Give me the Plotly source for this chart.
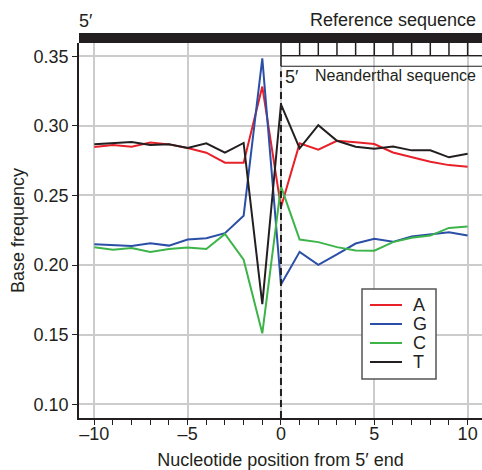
import plotly.graph_objects as go

positions = list(range(-10, 11))
freq_A = [0.2848, 0.2862, 0.2850, 0.2881, 0.2867, 0.2841, 0.2807, 0.2735, 0.2735, 0.3282,
          0.2416, 0.2874, 0.2829, 0.2893, 0.2883, 0.2869, 0.2809, 0.2773, 0.2742, 0.2718, 0.2706]
freq_G = [0.2150, 0.2143, 0.2138, 0.2157, 0.2140, 0.2184, 0.2193, 0.2229, 0.2355, 0.3485,
          0.1860, 0.2095, 0.2002, 0.2077, 0.2155, 0.2189, 0.2167, 0.2205, 0.2219, 0.2236, 0.2212]
freq_C = [0.2128, 0.2111, 0.2123, 0.2095, 0.2116, 0.2126, 0.2116, 0.2224, 0.2039, 0.1510,
          0.2565, 0.2184, 0.2165, 0.2129, 0.2105, 0.2103, 0.2165, 0.2196, 0.2212, 0.2267, 0.2277]
freq_T = [0.2868, 0.2875, 0.2884, 0.2862, 0.2868, 0.2841, 0.2875, 0.2807, 0.2877, 0.1720,
          0.3155, 0.2838, 0.3005, 0.2893, 0.2850, 0.2836, 0.2852, 0.2824, 0.2824, 0.2774, 0.2800]

series_names = ["A", "G", "C", "T"]
series_colors = ["#e8202a", "#2b4fa6", "#3cb44a", "#231f20"]

x_tickvals = [-10, -5, 0, 5, 10]
x_ticktext = ["\u201310", "\u20135", "0", "5", "10"]
y_tickvals = [0.10, 0.15, 0.20, 0.25, 0.30, 0.35]
y_ticktext = ["0.10", "0.15", "0.20", "0.25", "0.30", "0.35"]
neander_ticks = list(range(0, 11))

FONT = "Liberation Sans, Arial, sans-serif"
INK = "#231f20"

XR = [-10.82, 10.77]
YR = [0.0902, 0.3595]
NEANDER_TOP = 0.3505
NEANDER_BOT = 0.3428

fig = go.Figure()
for name, vals, col in zip(series_names, [freq_A, freq_G, freq_C, freq_T], series_colors):
    fig.add_trace(go.Scatter(x=positions, y=vals, mode="lines", name=name,
                             line=dict(color=col, width=2), showlegend=False))

shapes = []
# Reference sequence bar (above plot area)
shapes.append(dict(type="rect", xref="paper", yref="paper", x0=0, x1=1, y0=1.0, y1=1.0 + 10/375,
                   fillcolor=INK, line=dict(width=0)))
# Neanderthal ladder
shapes.append(dict(type="line", xref="x", yref="y", x0=0, x1=XR[1], y0=NEANDER_TOP, y1=NEANDER_TOP,
                   line=dict(color=INK, width=1.2)))
shapes.append(dict(type="line", xref="x", yref="y", x0=0, x1=XR[1], y0=NEANDER_BOT, y1=NEANDER_BOT,
                   line=dict(color=INK, width=1.2)))
for t in neander_ticks:
    shapes.append(dict(type="line", xref="x", yref="y", x0=t, x1=t, y0=NEANDER_TOP, y1=YR[1],
                       line=dict(color=INK, width=1.5)))
shapes.append(dict(type="line", xref="x", yref="y", x0=0, x1=0, y0=NEANDER_BOT, y1=NEANDER_TOP,
                   line=dict(color=INK, width=1.5)))
# dashed line at position 0
shapes.append(dict(type="line", xref="x", yref="y", x0=0, x1=0, y0=YR[0], y1=NEANDER_BOT - 0.0035,
                   line=dict(color=INK, width=2, dash="7px,4px")))

# Custom legend
lg_x0, lg_x1 = (362 - 79) / 403, (436 - 79) / 403
lg_y0, lg_y1 = (418 - 379) / 375, (418 - 289) / 375
shapes.append(dict(type="rect", xref="paper", yref="paper", x0=lg_x0, x1=lg_x1, y0=lg_y0, y1=lg_y1,
                   fillcolor="white", line=dict(color="#555555", width=1.5), layer="above"))
annotations = []
row_py = [305, 324, 343, 362]
for name, col, py in zip(series_names, series_colors, row_py):
    yp = (418 - py) / 375
    shapes.append(dict(type="line", xref="paper", yref="paper", x0=(370 - 79) / 403, x1=(402 - 79) / 403,
                       y0=yp, y1=yp, line=dict(color=col, width=2), layer="above"))
    annotations.append(dict(xref="paper", yref="paper", x=(411 - 79) / 403, y=yp, text=name,
                            showarrow=False, xanchor="left", yanchor="middle",
                            font=dict(family=FONT, size=18, color=INK)))

annotations += [
    dict(xref="paper", yref="paper", x=-0.005, y=(418 - 21) / 375, text="5\u2032", showarrow=False,
         xanchor="left", yanchor="middle", font=dict(family=FONT, size=18, color=INK)),
    dict(xref="paper", yref="paper", x=(478 - 79) / 403, y=(418 - 20) / 375, text="Reference sequence",
         showarrow=False, xanchor="right", yanchor="middle", font=dict(family=FONT, size=18, color=INK)),
    dict(xref="paper", yref="paper", x=(283 - 79) / 403, y=(418 - 77) / 375, text="5\u2032",
         showarrow=False, xanchor="left", yanchor="middle", font=dict(family=FONT, size=18, color=INK)),
    dict(xref="paper", yref="paper", x=(478 - 79) / 403, y=(418 - 76) / 375, text="Neanderthal sequence",
         showarrow=False, xanchor="right", yanchor="middle", font=dict(family=FONT, size=16, color=INK)),
]

fig.update_layout(
    width=482, height=470,
    margin=dict(l=79, r=0, t=43, b=52),
    plot_bgcolor="white", paper_bgcolor="white",
    font=dict(family=FONT, size=18, color=INK),
    shapes=shapes, annotations=annotations,
    xaxis=dict(range=XR, tickmode="array", tickvals=x_tickvals, ticktext=x_ticktext,
               ticks="outside", ticklen=5, tickwidth=1.3, tickcolor=INK,
               showline=True, linecolor=INK, linewidth=1.5,
               showgrid=True, gridcolor="#cccccc", gridwidth=1.5, zeroline=False,
               minor=dict(dtick=1, tick0=0, ticks="outside", ticklen=5,
                          tickwidth=1.3, tickcolor=INK, showgrid=False),
               tickfont=dict(size=18), ticklabelstandoff=-6,
               title=dict(text="Nucleotide position from 5\u2032 end", font=dict(size=18), standoff=11)),
    yaxis=dict(range=YR, tickmode="array", tickvals=y_tickvals, ticktext=y_ticktext,
               ticks="outside", ticklen=5, tickwidth=1.3, tickcolor=INK,
               showline=True, linecolor=INK, linewidth=1.5,
               showgrid=True, gridcolor="#cccccc", gridwidth=1.5, zeroline=False,
               tickfont=dict(size=18),
               title=dict(text="Base frequency", font=dict(size=18), standoff=4)),
)

fig.write_html("out.html", config={"displayModeBar": False},
               post_script="document.body.style.margin='0';document.body.style.overflow='hidden';")
